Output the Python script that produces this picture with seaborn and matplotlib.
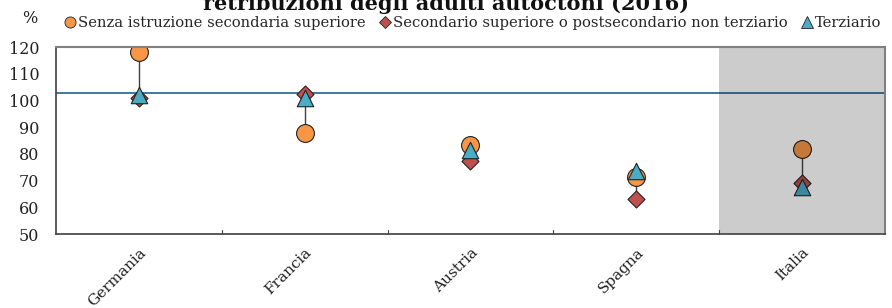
import matplotlib
matplotlib.use("Agg")
import matplotlib.pyplot as plt
from matplotlib.lines import Line2D
import seaborn as sns
import pandas as pd
import numpy as np

countries = ["Germania", "Francia", "Austria", "Spagna", "Italia"]
senza = [118, 88, 83.5, 71.5, 82]
secondario = [101, 102.5, 77.5, 63, 69.3]
terziario = [102, 100.8, 81.5, 73.5, 67.5]
ref_line = 102.7
series_names = ["Senza istruzione secondaria superiore",
                "Secondario superiore o postsecondario non terziario",
                "Terziario"]
yticks = [50, 60, 70, 80, 90, 100, 110, 120]

sns.set_theme(style="white")
plt.rcParams['font.family'] = ['DejaVu Serif']

df = pd.DataFrame({
    "country": countries * 3,
    "value": senza + secondario + terziario,
    "series": [series_names[0]] * 5 + [series_names[1]] * 5 + [series_names[2]] * 5,
})

fig = plt.figure(figsize=(8.92, 3.08), dpi=100)
ax = fig.add_axes([0.0628, 0.240, 0.9292, 0.607])

colors = {series_names[0]: "#F79646", series_names[1]: "#C0504D", series_names[2]: "#4BACC6"}
markers = {series_names[0]: "o", series_names[1]: "D", series_names[2]: "^"}
sizes = {series_names[0]: 165, series_names[1]: 75, series_names[2]: 140}

# connector lines
lo = np.minimum(np.minimum(senza, secondario), terziario)
hi = np.maximum(np.maximum(senza, secondario), terziario)
ax.vlines(range(len(countries)), lo, hi, color="#404040", lw=1.0, zorder=2)

for i, s in enumerate(series_names):
    sub = df[df.series == s]
    sns.scatterplot(data=sub, x="country", y="value", ax=ax, color=colors[s],
                    marker=markers[s], s=sizes[s], edgecolor="#222222",
                    linewidth=0.8, zorder=3 + i, legend=False)

ax.axhline(ref_line, color="#1F6391", lw=1.2, zorder=2.5)

ax.axvspan(3.5, 4.5, color="black", alpha=0.2, lw=0, zorder=10)

ax.set_xlim(-0.5, 4.5)
ax.set_ylim(50, 120)
ax.set_yticks(yticks)
ax.set_yticklabels([str(v) for v in yticks], fontsize=11.5, color="#222222")
ax.set_xticks(range(len(countries)))
ax.set_xticklabels(countries, rotation=45, ha="right", rotation_mode="anchor",
                   fontsize=11, color="#222222")
ax.tick_params(axis="x", length=0, pad=8)
ax.tick_params(axis="y", length=0, pad=12)
for b in [0.5, 1.5, 2.5, 3.5]:
    ax.plot([b, b], [50, 51.5], color="#404040", lw=0.8, zorder=11, clip_on=False)
ax.set_xlabel("")
ax.set_ylabel("")
for side in ["top", "right"]:
    ax.spines[side].set_color("#808080")
    ax.spines[side].set_linewidth(1.5)
for side in ["left", "bottom"]:
    ax.spines[side].set_color("#404040")
    ax.spines[side].set_linewidth(1.2)
for sp in ax.spines.values():
    sp.set_zorder(12)

handles = [Line2D([], [], marker=markers[s], linestyle="none", markerfacecolor=colors[s],
                  markeredgecolor="#222222", markeredgewidth=0.6,
                  markersize=8 if markers[s] != "D" else 6) for s in series_names]
fig.legend(handles, series_names, loc="center left", bbox_to_anchor=(0.062, 0.925),
           ncol=3, frameon=False, fontsize=10.6, handletextpad=0.05, columnspacing=0.8,
           handlelength=1.0, borderpad=0)

fig.text(0.025, 0.94, "%", fontsize=11.5, color="#222222", ha="left", va="center")
fig.text(0.5, 0.955, "retribuzioni degli adulti autoctoni (2016)", fontsize=15,
         fontweight="bold", ha="center", va="bottom", color="#111111")

fig.savefig("out.png", dpi=100)
